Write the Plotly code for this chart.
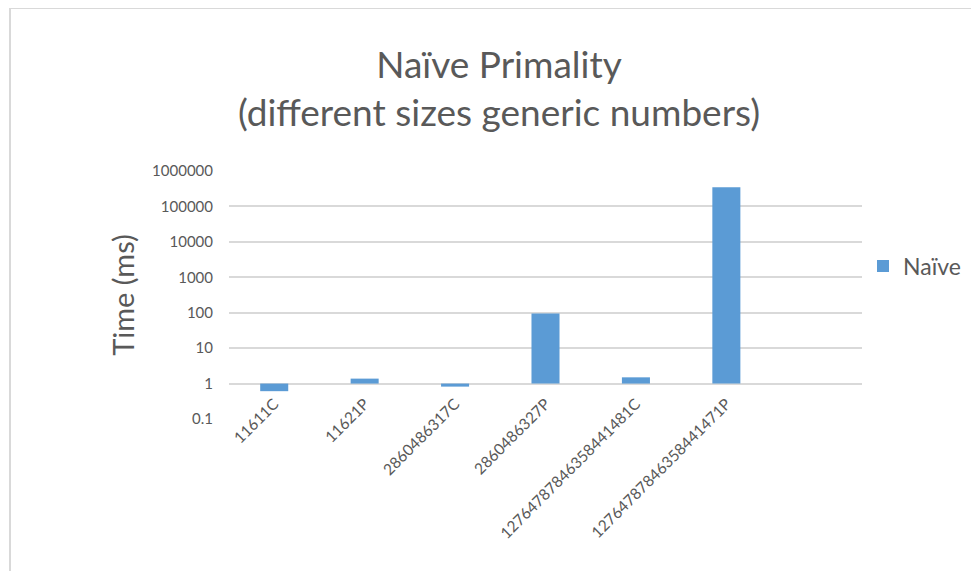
import plotly.graph_objects as go

categories = ["11611C", "11621P", "2860486317C", "2860486327P",
              "12764787846358441481C", "12764787846358441471P"]
times_ms = [0.61, 1.38, 0.82, 95, 1.5, 346000]
series_name = "Naïve"

base_value = 1
fig = go.Figure()
fig.add_trace(go.Bar(
    x=categories,
    y=[v - base_value for v in times_ms],
    base=base_value,
    name=series_name,
    marker=dict(color="#5B9BD5", line=dict(width=0)),
    width=0.31,
    hoverinfo="skip",
))

grey = "#595959"
L, R, T, B = 221, 125, 163, 160
PW, PH = 979 - L - R, 571 - T - B

fig.update_layout(
    width=979, height=571,
    margin=dict(l=L, r=R, t=T, b=B),
    paper_bgcolor="white", plot_bgcolor="white",
    font=dict(family="Lato, Calibri, Carlito, sans-serif", color=grey),
    title=dict(
        text="Naïve Primality<br>(different sizes generic numbers)",
        x=491 / 979, xanchor="center",
        y=1 - 70 / 571, yanchor="top",
        font=dict(size=37, color=grey, family="Lato, sans-serif"),
    ),
    showlegend=True,
    legend=dict(x=(855 - L) / PW, y=(411 - 258) / PH, xanchor="left", yanchor="middle",
                font=dict(size=23, color=grey), bgcolor="rgba(0,0,0,0)",
                itemwidth=30),
    xaxis=dict(
        type="category", range=[-0.5, 6.5],
        tickangle=-45, tickfont=dict(size=15.5, color=grey),
        ticklabelstandoff=-28,
        showgrid=False, showline=False, ticks="",
    ),
    yaxis=dict(
        type="log", range=[-1, 6],
        tickvals=[0.1, 1, 10, 100, 1000, 10000, 100000, 1000000],
        ticktext=["0.1", "1", "10", "100", "1000", "10000", "100000", "1000000"],
        tickfont=dict(size=15, color=grey),
        ticklabelstandoff=15,
        gridcolor="#d9d9d9", gridwidth=1.5,
        showline=False, zeroline=False, ticks="",
        title=dict(text="Time (ms)", font=dict(size=29, color=grey), standoff=8),
    ),
    shapes=[dict(type="rect", xref="paper", yref="paper",
                 x0=(2 - L) / PW, x1=(990 - L) / PW,
                 y0=(411 - 590) / PH, y1=(411 - 0) / PH,
                 line=dict(color="#d9d9d9", width=2), layer="below")],
)

fig.write_html("out.html")
